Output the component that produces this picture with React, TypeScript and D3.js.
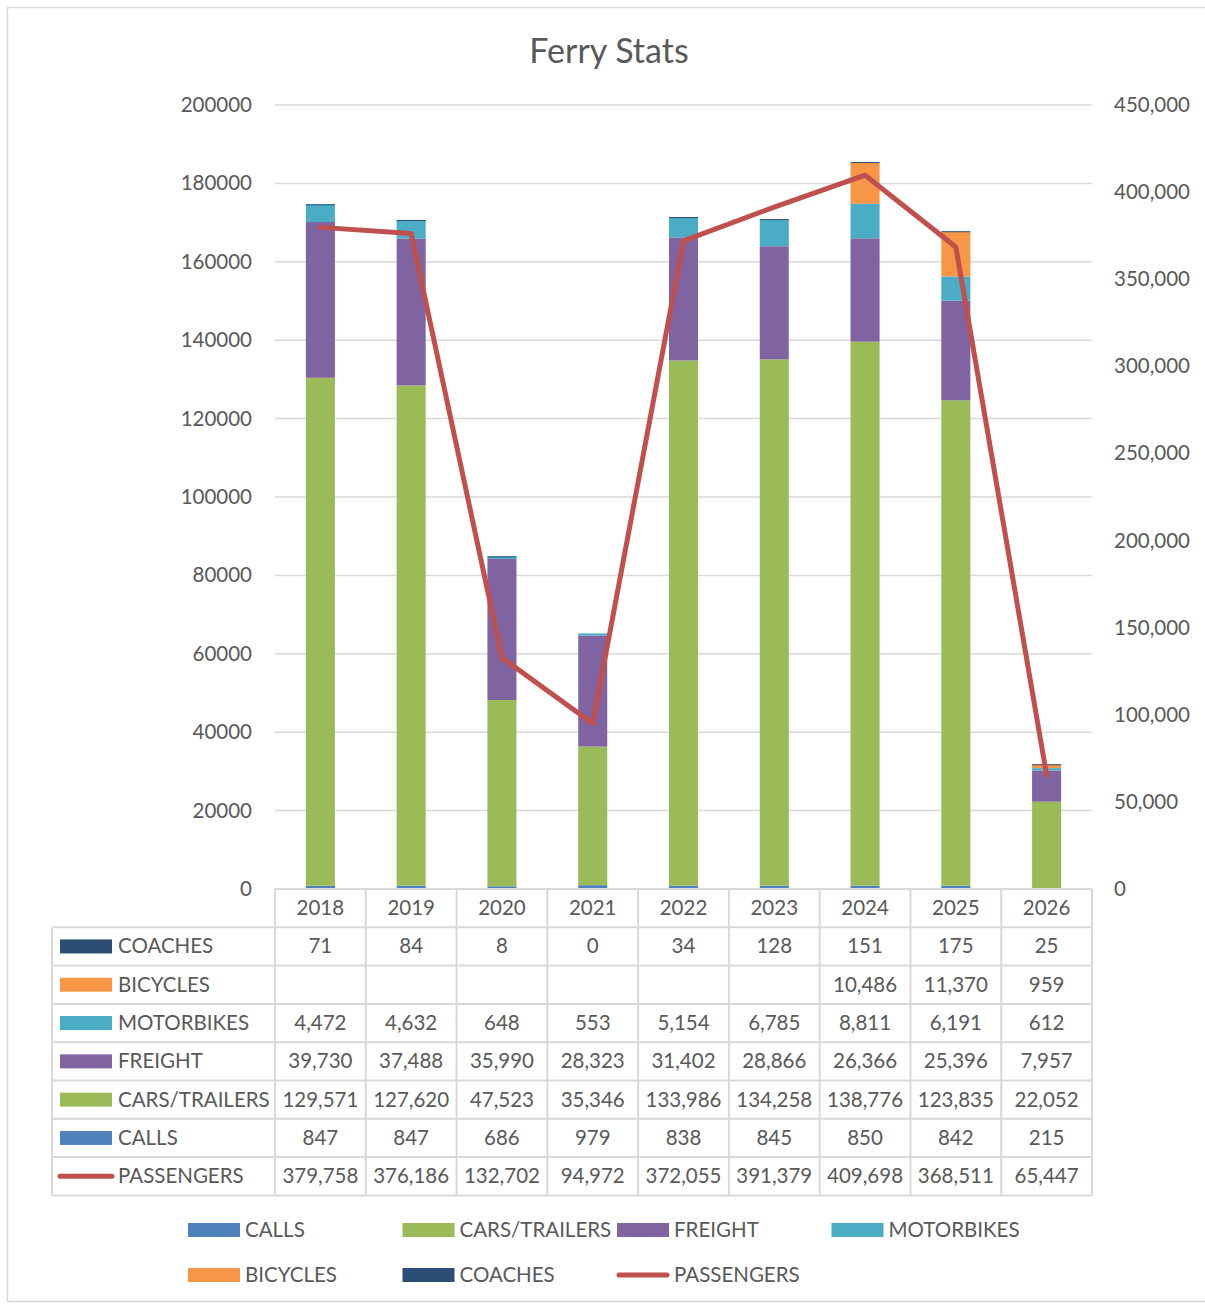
import React from 'react';
import * as d3 from 'd3';

// --- Data ---
const years = ['2018', '2019', '2020', '2021', '2022', '2023', '2024', '2025', '2026'];
const calls = [847, 847, 686, 979, 838, 845, 850, 842, 215];
const carsTrailers = [129571, 127620, 47523, 35346, 133986, 134258, 138776, 123835, 22052];
const freight = [39730, 37488, 35990, 28323, 31402, 28866, 26366, 25396, 7957];
const motorbikes = [4472, 4632, 648, 553, 5154, 6785, 8811, 6191, 612];
const bicycles: (number | null)[] = [null, null, null, null, null, null, 10486, 11370, 959];
const coaches = [71, 84, 8, 0, 34, 128, 151, 175, 25];
const passengers = [379758, 376186, 132702, 94972, 372055, 391379, 409698, 368511, 65447];

const leftTicks = [0, 20000, 40000, 60000, 80000, 100000, 120000, 140000, 160000, 180000, 200000];
const rightTicks = [0, 50000, 100000, 150000, 200000, 250000, 300000, 350000, 400000, 450000];

const barSeries = [
  { name: 'CALLS', values: calls, color: '#4f81bd' },
  { name: 'CARS/TRAILERS', values: carsTrailers, color: '#9bbb59' },
  { name: 'FREIGHT', values: freight, color: '#8064a2' },
  { name: 'MOTORBIKES', values: motorbikes, color: '#4bacc6' },
  { name: 'BICYCLES', values: bicycles, color: '#f79646' },
  { name: 'COACHES', values: coaches, color: '#2c4d75' },
];
const lineColor = '#c0504d';

// table rows top -> bottom
const tableRows = [
  { name: 'COACHES', values: coaches as (number | null)[], color: '#2c4d75', line: false },
  { name: 'BICYCLES', values: bicycles, color: '#f79646', line: false },
  { name: 'MOTORBIKES', values: motorbikes as (number | null)[], color: '#4bacc6', line: false },
  { name: 'FREIGHT', values: freight as (number | null)[], color: '#8064a2', line: false },
  { name: 'CARS/TRAILERS', values: carsTrailers as (number | null)[], color: '#9bbb59', line: false },
  { name: 'CALLS', values: calls as (number | null)[], color: '#4f81bd', line: false },
  { name: 'PASSENGERS', values: passengers as (number | null)[], color: lineColor, line: true },
];

const legendItems = [
  { name: 'CALLS', color: '#4f81bd', line: false, row: 0, col: 0 },
  { name: 'CARS/TRAILERS', color: '#9bbb59', line: false, row: 0, col: 1 },
  { name: 'FREIGHT', color: '#8064a2', line: false, row: 0, col: 2 },
  { name: 'MOTORBIKES', color: '#4bacc6', line: false, row: 0, col: 3 },
  { name: 'BICYCLES', color: '#f79646', line: false, row: 1, col: 0 },
  { name: 'COACHES', color: '#2c4d75', line: false, row: 1, col: 1 },
  { name: 'PASSENGERS', color: lineColor, line: true, row: 1, col: 2 },
];

const FONT = 'Lato, "Open Sans", sans-serif';
const TEXT = '#595959';
const GRID = '#d9d9d9';

export default function App() {
  const W = 1205, H = 1304;
  const plotL = 275, plotR = 1092, plotT = 105, plotB = 889;

  const x = d3.scaleBand<string>().domain(years).range([plotL, plotR]).paddingInner(0.68).paddingOuter(0.34);
  const band = d3.scaleBand<string>().domain(years).range([plotL, plotR]);
  const yL = d3.scaleLinear().domain([0, 200000]).range([plotB, plotT]);
  const yR = d3.scaleLinear().domain([0, 450000]).range([plotB, plotT]);

  const stackData = years.map((yr, i) => {
    const o: any = { year: yr };
    barSeries.forEach(s => { o[s.name] = s.values[i] ?? 0; });
    return o;
  });
  const stacked = d3.stack<any>().keys(barSeries.map(s => s.name))(stackData);

  const linePath = d3.line<number>()
    .x((_, i) => (band(years[i]) as number) + band.bandwidth() / 2)
    .y(d => yR(d))(passengers);

  const fmt = d3.format(',');
  const rowH = 38.3;
  const tableL = 52;
  const headerB = plotB + rowH;

  return (
    <svg width={W} height={H} style={{ position: 'absolute', left: 0, top: 0, background: '#fff' }} fontFamily={FONT}>
      <rect x={7.5} y={7.5} width={1200} height={1294} fill="#fff" stroke={GRID} strokeWidth={1.5} />
      <text x={609} y={63} textAnchor="middle" fontSize={34} fill={TEXT}>Ferry Stats</text>

      {/* gridlines */}
      {leftTicks.map(t => (
        <line key={t} x1={plotL} x2={plotR} y1={yL(t)} y2={yL(t)} stroke={GRID} strokeWidth={1.5} />
      ))}
      {leftTicks.map(t => (
        <text key={'l' + t} x={252} y={yL(t) + 7} textAnchor="end" fontSize={20.5} fill={TEXT}>{t}</text>
      ))}
      {rightTicks.map(t => (
        <text key={'r' + t} x={1114} y={yR(t) + 7} textAnchor="start" fontSize={20.5} fill={TEXT}>{fmt(t)}</text>
      ))}

      {/* bars */}
      {stacked.map((layer, si) => (
        <g key={layer.key} fill={barSeries[si].color}>
          {layer.map((d, i) => {
            const h = yL(d[0]) - yL(d[1]);
            if (h <= 0) return null;
            return <rect key={i} x={x(years[i])} y={yL(d[1])} width={x.bandwidth()} height={Math.max(h, 1)} />;
          })}
        </g>
      ))}

      {/* passengers line */}
      <path d={linePath || ''} fill="none" stroke={lineColor} strokeWidth={5} strokeLinejoin="round" strokeLinecap="round" />

      {/* data table */}
      <g stroke={GRID} strokeWidth={2} fill="none">
        <line x1={plotL} x2={plotR} y1={plotB} y2={plotB} />
        {d3.range(tableRows.length + 1).map(r => (
          <line key={'h' + r} x1={tableL} x2={plotR} y1={headerB + r * rowH} y2={headerB + r * rowH} />
        ))}
        <line x1={tableL} x2={tableL} y1={headerB} y2={headerB + tableRows.length * rowH} />
        {d3.range(years.length + 1).map(c => (
          <line key={'v' + c} x1={plotL + c * band.bandwidth()} x2={plotL + c * band.bandwidth()} y1={plotB} y2={headerB + tableRows.length * rowH} />
        ))}
      </g>
      {years.map(yr => (
        <text key={'y' + yr} x={(band(yr) as number) + band.bandwidth() / 2} y={plotB + 26} textAnchor="middle" fontSize={20.5} fill={TEXT}>{yr}</text>
      ))}
      {tableRows.map((row, r) => {
        const top = headerB + r * rowH;
        return (
          <g key={row.name}>
            {row.line
              ? <line x1={60} x2={112} y1={top + rowH / 2} y2={top + rowH / 2} stroke={row.color} strokeWidth={5} strokeLinecap="round" />
              : <rect x={60} y={top + rowH / 2 - 7} width={52} height={14} fill={row.color} />}
            <text x={118} y={top + 26} fontSize={20.5} fill={TEXT}>{row.name}</text>
            {row.values.map((v, i) => v == null ? null : (
              <text key={i} x={(band(years[i]) as number) + band.bandwidth() / 2} y={top + 26} textAnchor="middle" fontSize={20.5} fill={TEXT}>{fmt(v)}</text>
            ))}
          </g>
        );
      })}

      {/* legend */}
      {legendItems.map(it => {
        const lx = 188 + it.col * 214.5;
        const ly = it.row === 0 ? 1230 : 1275;
        return (
          <g key={it.name}>
            {it.line
              ? <line x1={lx + 2} x2={lx + 50} y1={ly} y2={ly} stroke={it.color} strokeWidth={5} strokeLinecap="round" />
              : <rect x={lx} y={ly - 7} width={52} height={14} fill={it.color} />}
            <text x={lx + 57} y={ly + 7} fontSize={20.5} fill={TEXT}>{it.name}</text>
          </g>
        );
      })}
    </svg>
  );
}
